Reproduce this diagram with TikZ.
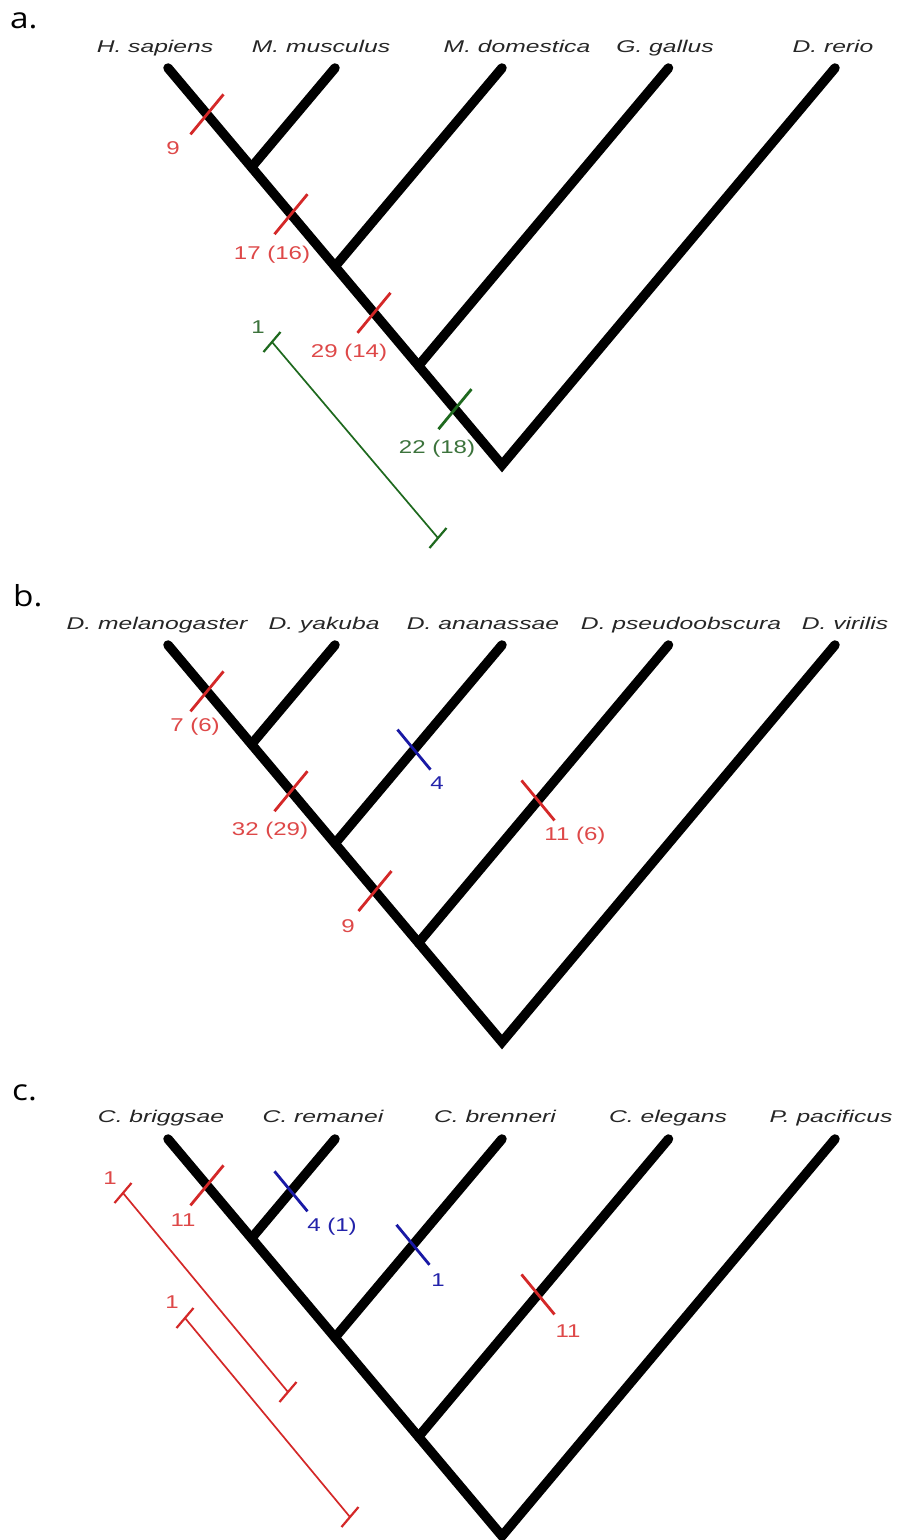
\documentclass[tikz,border=0pt]{standalone}
\usepackage{fontspec}
\usetikzlibrary{calc}
\newfontfamily\spfont[FakeStretch=1.45]{Liberation Sans}
\newfontfamily\numfont[FakeStretch=1.3]{Liberation Sans}
\newfontfamily\panfont[FakeStretch=1.15]{Open Sans}
\definecolor{mred}{RGB}{212,40,40}
\definecolor{mredtxt}{RGB}{222,72,72}
\definecolor{mgreen}{RGB}{30,105,30}
\definecolor{mgreentxt}{RGB}{60,115,60}
\definecolor{mblue}{RGB}{25,25,165}
\definecolor{mbluetxt}{RGB}{35,35,170}

\tikzset{
  branch/.style={line width=9.5pt, line cap=round, line join=miter, black},
  species/.style={font=\spfont\itshape\fontsize{17}{20}\selectfont, anchor=base, inner sep=0pt, text=black!85},
  count/.style={font=\numfont\fontsize{18.5}{20}\selectfont, anchor=center, inner sep=0pt},
  tickmark/.style={line width=2.8pt},
  scalebar/.style={line width=1.7pt},
  panel/.style={font=\panfont\fontsize{29}{30}\selectfont, anchor=base west, inner sep=0pt},
}

% skeleton of a five-taxon ladder tree: tips t1..t5, inner nodes n1..n3, root r
\newcommand\cladetree{%
  \coordinate (t1) at (168,68);
  \coordinate (t2) at (335,68);
  \coordinate (t3) at (502,68);
  \coordinate (t4) at (668.5,68);
  \coordinate (t5) at (835,68);
  \coordinate (r)  at (502,465);
  \coordinate (n1) at ($(t1)!0.25!(r)$);
  \coordinate (n2) at ($(t1)!0.5!(r)$);
  \coordinate (n3) at ($(t1)!0.75!(r)$);
  \draw[branch] (t1) -- (r) -- (t5);
  \draw[branch] (t2) -- (n1);
  \draw[branch] (t3) -- (n2);
  \draw[branch] (t4) -- (n3);
}
% cross ticks on branches running down-right (L) and down-left (R)
\newcommand\brtickL[2]{\draw[tickmark,#2] ($(#1)+(16.5,-20)$) -- ($(#1)+(-16.5,20)$);}
\newcommand\brtickR[2]{\draw[tickmark,#2] ($(#1)+(-16.5,-20)$) -- ($(#1)+(16.5,20)$);}
% scale bar with end caps
\newcommand\scalebarline[3]{%
  \draw[scalebar,#3] (#1) -- (#2);
  \draw[tickmark,line width=2.2pt,#3] ($(#1)+(8.5,-10)$) -- ($(#1)+(-8.5,10)$);
  \draw[tickmark,line width=2.2pt,#3] ($(#2)+(8.5,-10)$) -- ($(#2)+(-8.5,10)$);
}

\begin{document}
\begin{tikzpicture}[x=1pt,y=-1pt]
\fill[white] (0,0) rectangle (900,1540);
\useasboundingbox (0,0) rectangle (900,1540);

% ---------------- a. vertebrates ----------------
\begin{scope}[name prefix=a-]
  \node[panel] (lab) at (10,28) {a.};
  \cladetree
  \node[species] (s1) at (155,52) {H. sapiens};
  \node[species] (s2) at (321,52) {M. musculus};
  \node[species] (s3) at (517,52) {M. domestica};
  \node[species] (s4) at (665,52) {G. gallus};
  \node[species] (s5) at (833,52) {D. rerio};

  \coordinate (m1) at ($(t1)!0.467!(n1)$);
  \coordinate (m2) at ($(n1)!0.473!(n2)$);
  \coordinate (m3) at ($(n2)!0.467!(n3)$);
  \coordinate (m4) at ($(n3)!0.437!(r)$);
  \brtickL{m1}{mred}
  \brtickL{m2}{mred}
  \brtickL{m3}{mred}
  \brtickL{m4}{mgreen}
  \node[count,text=mredtxt] (c1) at ($(m1)+(-34,34)$) {9};
  \node[count,text=mredtxt] (c2) at ($(m2)+(-19,41)$) {17 (16)};
  \node[count,text=mredtxt] (c3) at ($(m3)+(-25,40)$) {29 (14)};
  \node[count,text=mgreentxt] (c4) at ($(m4)+(-18,40)$) {22 (18)};

  \coordinate (b1) at (272,342);
  \coordinate (b2) at (438,538);
  \scalebarline{b1}{b2}{mgreen}
  \node[count,text=mgreentxt] (bl) at (258,327) {1};
\end{scope}

% ---------------- b. Drosophila ----------------
\begin{scope}[yshift=-577pt,name prefix=b-]
  \node[panel] (lab) at (13,29) {b.};
  \cladetree
  \node[species] (s1) at (157,52) {D. melanogaster};
  \node[species] (s2) at (324,52) {D. yakuba};
  \node[species] (s3) at (483,52) {D. ananassae};
  \node[species] (s4) at (681,52) {D. pseudoobscura};
  \node[species] (s5) at (845,52) {D. virilis};

  \coordinate (m1) at ($(t1)!0.467!(n1)$);
  \coordinate (m2) at ($(n1)!0.473!(n2)$);
  \coordinate (m3) at ($(t3)!0.527!(n2)$);
  \coordinate (m4) at ($(t4)!0.522!(n3)$);
  \coordinate (m5) at ($(n2)!0.479!(n3)$);
  \brtickL{m1}{mred}
  \brtickL{m2}{mred}
  \brtickR{m3}{mblue}
  \brtickR{m4}{mred}
  \brtickL{m5}{mred}
  \node[count,text=mredtxt] (c1) at ($(m1)+(-12,35)$) {7 (6)};
  \node[count,text=mredtxt] (c2) at ($(m2)+(-21,40)$) {32 (29)};
  \node[count,text=mbluetxt] (c3) at ($(m3)+(23,34)$) {4};
  \node[count,text=mredtxt] (c4) at ($(m4)+(37,35)$) {11 (6)};
  \node[count,text=mredtxt] (c5) at ($(m5)+(-27,35)$) {9};
\end{scope}

% ---------------- c. nematodes ----------------
\begin{scope}[yshift=-1071pt,name prefix=c-]
  \node[panel] (lab) at (12,29) {c.};
  \cladetree
  \node[species] (s1) at (161,51) {C. briggsae};
  \node[species] (s2) at (323,51) {C. remanei};
  \node[species] (s3) at (495,51) {C. brenneri};
  \node[species] (s4) at (668,51) {C. elegans};
  \node[species] (s5) at (831,51) {P. pacificus};

  \coordinate (m1) at ($(t1)!0.467!(n1)$);
  \coordinate (m2) at ($(t2)!0.527!(n1)$);
  \coordinate (m3) at ($(t3)!0.533!(n2)$);
  \coordinate (m4) at ($(t4)!0.522!(n3)$);
  \brtickL{m1}{mred}
  \brtickR{m2}{mblue}
  \brtickR{m3}{mblue}
  \brtickR{m4}{mred}
  \node[count,text=mredtxt] (c1) at ($(m1)+(-24,35)$) {11};
  \node[count,text=mbluetxt] (c2) at ($(m2)+(41,35)$) {4 (1)};
  \node[count,text=mbluetxt] (c3) at ($(m3)+(25,35)$) {1};
  \node[count,text=mredtxt] (c4) at ($(m4)+(30,37)$) {11};

  \coordinate (b1) at (123,122);
  \coordinate (b2) at (288,321);
  \coordinate (b3) at (185,247);
  \coordinate (b4) at (350,446);
  \scalebarline{b1}{b2}{mred}
  \scalebarline{b3}{b4}{mred}
  \node[count,text=mredtxt] (bl1) at (110,107) {1};
  \node[count,text=mredtxt] (bl2) at (172,231) {1};
\end{scope}
\end{tikzpicture}
\end{document}
